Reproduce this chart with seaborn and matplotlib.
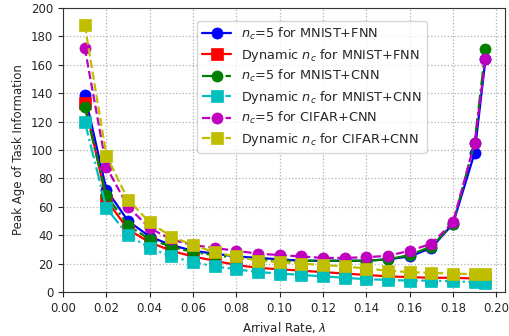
import pandas as pd
import matplotlib
matplotlib.use("Agg")
import matplotlib.pyplot as plt
import seaborn as sns

sns.set_style("ticks")
plt.rcParams["font.family"] = ["DejaVu Sans"]
plt.rcParams["font.size"] = 8.5

# 데이터
rate = [0.01, 0.02, 0.03, 0.04, 0.05, 0.06, 0.07, 0.08, 0.09, 0.10,
        0.11, 0.12, 0.13, 0.14, 0.15, 0.16, 0.17, 0.18, 0.19, 0.195]

fix_mnist_fnn = [139, 72, 50, 39, 33, 29, 27, 25, 24, 23,
                 22, 22, 22, 22, 23, 25, 31, 48, 98, 164]
dyn_mnist_fnn = [133, 65, 44, 35, 29, 25, 22, 19, 17, 16,
                 15, 14, 13, 12, 11, 10.5, 10, 10, 9.5, 9.5]
fix_mnist_cnn = [130, 68, 47, 37, 32, 28, 26, 24, 23, 22,
                 22, 22, 22, 22, 23, 26, 32, 48, 105, 171]
dyn_mnist_cnn = [120, 59, 40, 31, 25, 21, 18, 16, 14, 13,
                 12, 11, 10, 9, 8.5, 8, 8, 7.5, 7, 6.5]
fix_cifar_cnn = [172, 88, 60, 45, 37, 33, 31, 29, 27, 26,
                 25, 24, 24, 24.5, 25.5, 29, 34, 49, 105, 164]
dyn_cifar_cnn = [188, 96, 65, 49, 39, 33, 28, 25, 22, 21,
                 20, 19, 18, 16.5, 15, 14, 13.5, 13, 12.5, 12.5]

series = [
    (r"$n_c$=5 for MNIST+FNN", fix_mnist_fnn, "b", "o", "-"),
    (r"Dynamic $n_c$ for MNIST+FNN", dyn_mnist_fnn, "r", "s", "-"),
    (r"$n_c$=5 for MNIST+CNN", fix_mnist_cnn, "g", "o", "-."),
    (r"Dynamic $n_c$ for MNIST+CNN", dyn_mnist_cnn, "c", "s", "-."),
    (r"$n_c$=5 for CIFAR+CNN", fix_cifar_cnn, "m", "o", "--"),
    (r"Dynamic $n_c$ for CIFAR+CNN", dyn_cifar_cnn, "y", "s", "--"),
]

fig = plt.figure(figsize=(5.09, 3.36), dpi=100)
ax = fig.add_axes([0.124, 0.131, 0.868, 0.845])

for label, vals, color, marker, ls in series:
    df = pd.DataFrame({"rate": rate, "aoi": vals})
    sns.lineplot(data=df, x="rate", y="aoi", ax=ax, color=color, marker=marker,
                 linestyle=ls, linewidth=1.6, markersize=8, markeredgewidth=0.5,
                 markeredgecolor=color, label=label)

ax.set_xlim(0, 0.204)
ax.set_ylim(0, 200)
ax.set_xticks([0.00, 0.02, 0.04, 0.06, 0.08, 0.10, 0.12, 0.14, 0.16, 0.18, 0.20])
ax.set_yticks(range(0, 201, 20))
ax.grid(True, linestyle=":", color="#b0b0b0", linewidth=0.9)
for sp in ax.spines.values():
    sp.set_color("#333333")
ax.set_xlabel(r"Arrival Rate, $\lambda$")
ax.set_ylabel("Peak Age of Task Information")
ax.legend(loc="upper right", bbox_to_anchor=(0.838, 0.978), fontsize=9.3,
          handlelength=2.2, borderpad=0.4, labelspacing=0.35)

plt.savefig("out.png", dpi=100)
